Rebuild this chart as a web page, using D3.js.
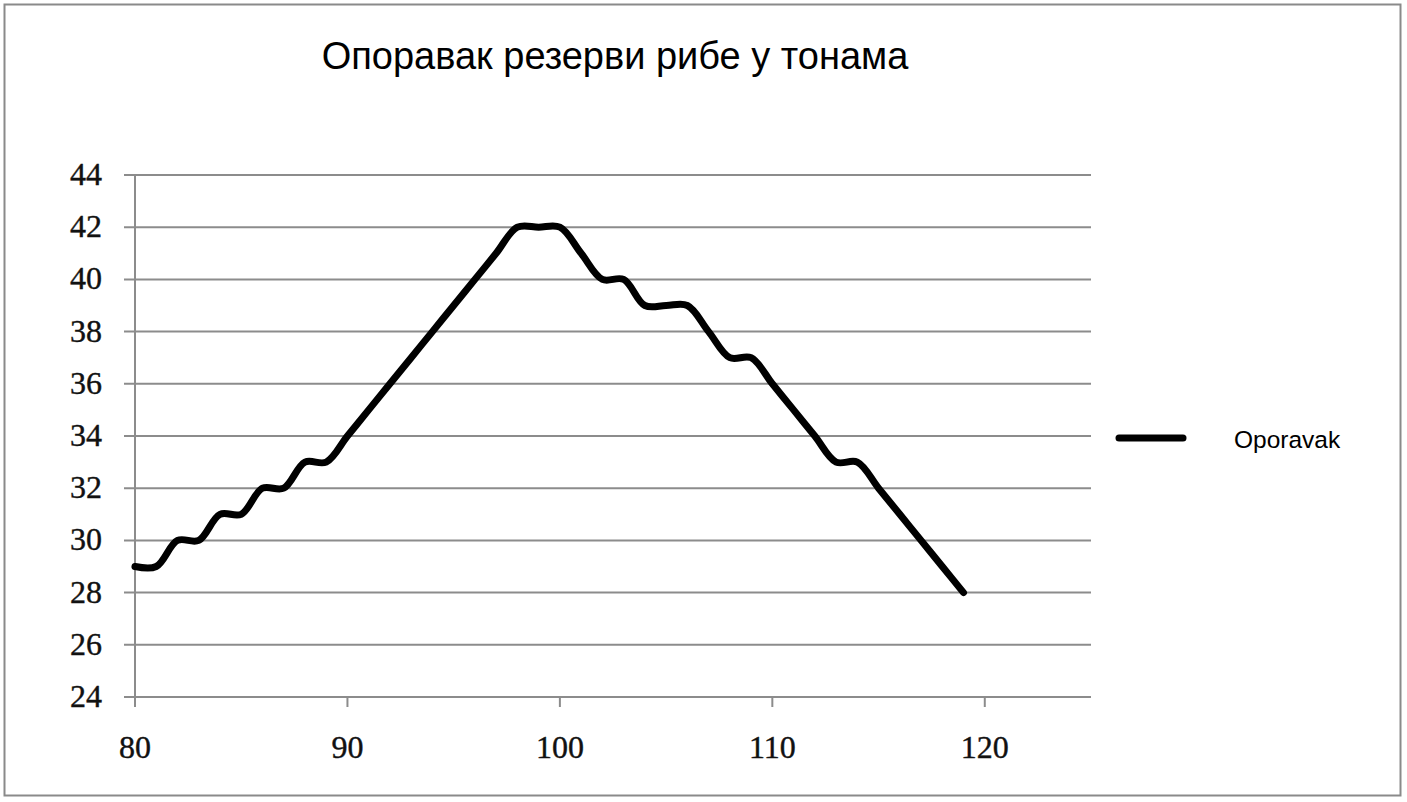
<!DOCTYPE html>
<html><head><meta charset="utf-8">
<script src="https://cdn.jsdelivr.net/npm/d3@7"></script>
<style>html,body{margin:0;padding:0;background:#fff;}</style>
</head><body>
<svg id="c" width="1407" height="802"></svg>
<script>
const title = "Опоравак резерви рибе у тонама";
const seriesName = "Oporavak";
const xValues = [80,81,82,83,84,85,86,87,88,89,90,91,92,93,94,95,96,97,98,99,100,101,102,103,104,105,106,107,108,109,110,111,112,113,114,115,116,117,118,119];
const yValues = [29,29,30,30,31,31,32,32,33,33,34,35,36,37,38,39,40,41,42,42,42,41,40,40,39,39,39,38,37,37,36,35,34,33,33,32,31,30,29,28];
const xTicks = [80,90,100,110,120];
const yTicks = [24,26,28,30,32,34,36,38,40,42,44];

const svg = d3.select("#c");
svg.append("rect").attr("x",4.5).attr("y",4.5).attr("width",1396).attr("height",791)
  .attr("fill","#fff").attr("stroke","#8a8a8a").attr("stroke-width",2);

const x = d3.scaleLinear().domain([80,125]).range([135,1091]);
const y = d3.scaleLinear().domain([24,44]).range([697,175]);

// gridlines
svg.append("g").selectAll("line").data(yTicks).join("line")
  .attr("x1",124).attr("x2",1091)
  .attr("y1",d=>y(d)).attr("y2",d=>y(d))
  .attr("stroke","#8c8c8c").attr("stroke-width",2);
// y axis line
svg.append("line").attr("x1",x(80)).attr("x2",x(80)).attr("y1",y(44)).attr("y2",707)
  .attr("stroke","#8c8c8c").attr("stroke-width",2);
// x tick marks
svg.append("g").selectAll("line").data(xTicks).join("line")
  .attr("x1",d=>x(d)).attr("x2",d=>x(d)).attr("y1",y(24)).attr("y2",707)
  .attr("stroke","#8c8c8c").attr("stroke-width",2);

// y labels
svg.append("g").selectAll("text").data(yTicks).join("text")
  .attr("x",102).attr("y",d=>y(d)+10)
  .attr("text-anchor","end")
  .attr("font-family","'Liberation Serif', 'DejaVu Serif', serif")
  .attr("font-size",32).attr("fill","#111")
  .attr("stroke","#111").attr("stroke-width",0.4)
  .text(d=>d);
// x labels
svg.append("g").selectAll("text").data(xTicks).join("text")
  .attr("x",d=>x(d)).attr("y",758)
  .attr("text-anchor","middle")
  .attr("font-family","'Liberation Serif', 'DejaVu Serif', serif")
  .attr("font-size",32).attr("fill","#111")
  .attr("stroke","#111").attr("stroke-width",0.4)
  .text(d=>d);

// line
const pts = xValues.map((v,i)=>[v,yValues[i]]);
const line = d3.line().x(d=>x(d[0])).y(d=>y(d[1])).curve(d3.curveCatmullRom.alpha(0.5));
svg.append("path").datum(pts).attr("d",line)
  .attr("fill","none").attr("stroke","#000").attr("stroke-width",7)
  .attr("stroke-linejoin","round").attr("stroke-linecap","round");

// title
svg.append("text").attr("x",615).attr("y",69).attr("text-anchor","middle")
  .attr("font-family","'Liberation Sans', Arial, sans-serif").attr("font-size",38)
  .attr("fill","#000").text(title);

// legend
svg.append("line").attr("x1",1119).attr("x2",1183).attr("y1",438).attr("y2",438)
  .attr("stroke","#000").attr("stroke-width",7).attr("stroke-linecap","round");
svg.append("text").attr("x",1234).attr("y",448)
  .attr("font-family","'Liberation Sans', Arial, sans-serif").attr("font-size",24.5)
  .attr("fill","#000").text(seriesName);
</script>
</body></html>
